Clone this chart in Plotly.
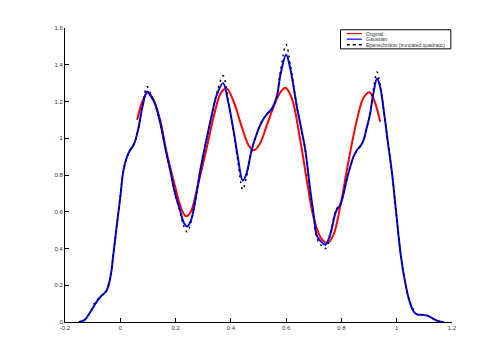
import plotly.graph_objects as go

# Gaussian KDE estimate
gauss_x = [-0.15, -0.13, -0.11, -0.09, -0.07, -0.05, -0.035, -0.025, -0.013, 0.0, 0.012, 0.03, 0.05, 0.065,
           0.08, 0.097, 0.11, 0.125, 0.145, 0.165, 0.18, 0.198, 0.216, 0.23, 0.242, 0.255, 0.27, 0.29, 0.31,
           0.33, 0.35, 0.372, 0.39, 0.41, 0.425, 0.443, 0.455, 0.476, 0.495, 0.512, 0.53, 0.548, 0.565, 0.58,
           0.6, 0.615, 0.639, 0.655, 0.669, 0.687, 0.70, 0.711, 0.725, 0.742, 0.76, 0.78, 0.796, 0.808, 0.82,
           0.832, 0.844, 0.856, 0.87, 0.88, 0.892, 0.904, 0.915, 0.929, 0.94, 0.955, 0.967, 0.983, 0.997,
           1.015, 1.03, 1.045, 1.06, 1.075, 1.09, 1.11, 1.13, 1.15, 1.17]
gauss_y = [0.0, 0.01, 0.05, 0.10, 0.14, 0.17, 0.25, 0.37, 0.52, 0.68, 0.83, 0.92, 0.97, 1.05,
           1.17, 1.255, 1.23, 1.19, 1.08, 0.93, 0.83, 0.70, 0.61, 0.54, 0.52, 0.55, 0.65, 0.83, 0.98,
           1.12, 1.24, 1.30, 1.20, 1.04, 0.90, 0.77, 0.80, 0.94, 1.03, 1.09, 1.13, 1.16, 1.22, 1.35,
           1.455, 1.38, 1.17, 1.05, 0.94, 0.72, 0.58, 0.47, 0.44, 0.42, 0.48, 0.60, 0.64, 0.70, 0.78,
           0.845, 0.90, 0.935, 0.96, 0.99, 1.06, 1.135, 1.24, 1.325, 1.28, 1.13, 0.99, 0.81, 0.61,
           0.36, 0.22, 0.12, 0.06, 0.04, 0.04, 0.035, 0.02, 0.005, 0.0]

# Epanechnikov (truncated quadratic) estimate
epan_y = [0.0, 0.01, 0.05, 0.11, 0.14, 0.17, 0.25, 0.37, 0.52, 0.68, 0.83, 0.92, 0.97, 1.05,
          1.18, 1.28, 1.24, 1.19, 1.08, 0.93, 0.83, 0.70, 0.60, 0.52, 0.49, 0.54, 0.65, 0.83, 0.98,
          1.12, 1.25, 1.34, 1.21, 1.03, 0.88, 0.72, 0.78, 0.94, 1.03, 1.09, 1.13, 1.16, 1.22, 1.37,
          1.51, 1.40, 1.17, 1.05, 0.94, 0.71, 0.57, 0.46, 0.42, 0.40, 0.47, 0.61, 0.64, 0.70, 0.78,
          0.845, 0.90, 0.935, 0.96, 0.99, 1.06, 1.14, 1.26, 1.36, 1.29, 1.13, 0.99, 0.81, 0.61,
          0.36, 0.22, 0.12, 0.07, 0.04, 0.04, 0.035, 0.02, 0.005, 0.0]

# Original density
orig_x = [0.061, 0.08, 0.1, 0.12, 0.144, 0.168, 0.198, 0.22, 0.238, 0.255, 0.277, 0.313, 0.34, 0.365,
          0.385, 0.41, 0.44, 0.465, 0.484, 0.505, 0.53, 0.554, 0.575, 0.597, 0.62, 0.651, 0.675, 0.699,
          0.725, 0.749, 0.77, 0.796, 0.82, 0.856, 0.88, 0.901, 0.92, 0.94]
orig_y = [1.10, 1.20, 1.25, 1.21, 1.10, 0.92, 0.74, 0.62, 0.575, 0.60, 0.72, 0.95, 1.13, 1.25,
          1.27, 1.20, 1.06, 0.96, 0.935, 0.97, 1.07, 1.17, 1.24, 1.275, 1.22, 0.99, 0.77, 0.57,
          0.46, 0.43, 0.47, 0.63, 0.83, 1.10, 1.22, 1.25, 1.20, 1.09]

series_names = ["Original", "Gaussian", "Epanechnikov (truncated quadratic)"]
series_colors = ["#ff0000", "#0000ff", "#000000"]
series_dash = ["solid", "solid", "dot"]

x_ticks = [-0.2, 0, 0.2, 0.4, 0.6, 0.8, 1, 1.2]
x_labels = ["-0.2", "0", "0.2", "0.4", "0.6", "0.8", "1", "1.2"]
y_ticks = [0, 0.2, 0.4, 0.6, 0.8, 1, 1.2, 1.4, 1.6]
y_labels = ["0", "0.2", "0.4", "0.6", "0.8", "1", "1.2", "1.4", "1.6"]

FONT = "Liberation Sans, Arial"

fig = go.Figure()
fig.add_trace(go.Scatter(x=orig_x, y=orig_y, mode="lines", name=series_names[0],
                         line=dict(color=series_colors[0], width=2, shape="spline")))
fig.add_trace(go.Scatter(x=gauss_x, y=gauss_y, mode="lines", name=series_names[1],
                         line=dict(color=series_colors[1], width=2, shape="spline")))
fig.add_trace(go.Scatter(x=gauss_x, y=epan_y, mode="lines", name=series_names[2],
                         line=dict(color=series_colors[2], width=1.5, dash="2px,4px", shape="spline")))

axis_common = dict(showgrid=False, zeroline=False, showline=True, linecolor="black", linewidth=1,
                   ticks="inside", ticklen=4, tickcolor="black", mirror=False,
                   tickfont=dict(family=FONT, size=6, color="#333333"))
fig.update_xaxes(range=[-0.2, 1.2], tickvals=x_ticks, ticktext=x_labels, **axis_common)
fig.update_yaxes(range=[0, 1.6], tickvals=y_ticks, ticktext=y_labels, **axis_common)

# Manual compact legend (MATLAB style)
shapes = [dict(type="rect", xref="paper", yref="paper", x0=0.712, x1=0.997, y0=0.929, y1=0.994,
               line=dict(color="black", width=1), fillcolor="white", layer="above")]
annotations = []
row_y = [0.981, 0.962, 0.943]
for name, col, dsh, yy in zip(series_names, series_colors, series_dash, row_y):
    shapes.append(dict(type="line", xref="paper", yref="paper", x0=0.728, x1=0.767, y0=yy, y1=yy,
                       line=dict(color=col, width=1.5 if dsh == "dot" else 1.2,
                                 dash="dot" if dsh == "dot" else "solid"),
                       layer="above"))
    annotations.append(dict(xref="paper", yref="paper", x=0.773, y=yy, xanchor="left", yanchor="middle",
                            text=name, showarrow=False,
                            font=dict(family=FONT, size=5, color="#333333")))

fig.update_layout(
    width=499, height=363,
    margin=dict(l=65, r=47, t=28, b=41),
    paper_bgcolor="white", plot_bgcolor="white",
    showlegend=False, hovermode=False,
    shapes=shapes, annotations=annotations,
)
fig.write_html("out.html", config={"displayModeBar": False},
               post_script="document.body.style.margin='0px';")
